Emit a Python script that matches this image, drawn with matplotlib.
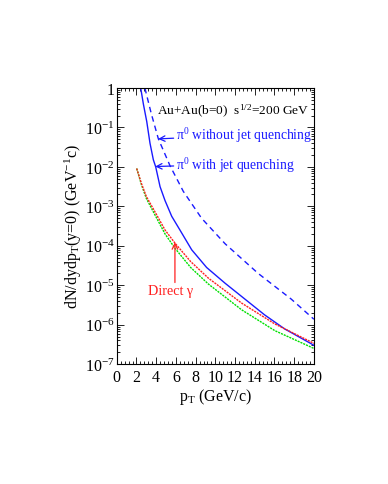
import numpy as np
import matplotlib
matplotlib.use('Agg')
import matplotlib.pyplot as plt
from matplotlib.ticker import LogLocator, MultipleLocator

plt.rcParams['font.family'] = ['Liberation Serif', 'DejaVu Serif']
plt.rcParams['mathtext.fontset'] = 'custom'
plt.rcParams['mathtext.rm'] = 'Liberation Serif'
plt.rcParams['mathtext.it'] = 'Liberation Serif:italic'

# pi0 with jet quenching (blue solid), log10 of yield
pt_quench = [2.36, 2.70, 3.04, 3.37, 3.71, 3.95, 4.39, 4.89, 5.57, 6.41, 7.6, 9.12,
             11.0, 13.0, 15.0, 17.0, 20.0]
ly_quench = [0.10, -0.41, -0.85, -1.40, -1.82, -2.0, -2.5, -2.85, -3.25, -3.6, -4.1,
             -4.55, -4.95, -5.35, -5.75, -6.1, -6.52]

# pi0 without jet quenching (blue dashed)
pt_noquench = [2.85, 3.5, 4.22, 5.4, 6.75, 8.6, 11.0, 14.35, 17.7, 20.0]
ly_noquench = [0.0, -0.65, -1.29, -1.97, -2.62, -3.3, -3.95, -4.7, -5.35, -5.86]

# direct photons (red)
pt_gamma = [2.02, 2.5, 3.0, 3.9, 4.9, 5.9, 7.5, 9.3, 12.66, 16.04, 20.0]
ly_gamma = [-2.04, -2.42, -2.75, -3.15, -3.6, -3.93, -4.4, -4.82, -5.45, -5.98, -6.47]

# green curve
pt_green = [2.02, 2.5, 3.0, 3.9, 4.9, 5.9, 7.5, 9.3, 12.66, 16.04, 20.0]
ly_green = [-2.04, -2.45, -2.8, -3.23, -3.7, -4.06, -4.55, -4.97, -5.62, -6.15, -6.6]

yticks = [1e-7, 1e-6, 1e-5, 1e-4, 1e-3, 1e-2, 1e-1, 1]
ytick_labels = ['$10^{-7}$', '$10^{-6}$', '$10^{-5}$', '$10^{-4}$',
                '$10^{-3}$', '$10^{-2}$', '$10^{-1}$', '1']

fig = plt.figure(figsize=(3.88, 4.85), dpi=100)
ax = fig.add_axes([0.301, 0.247, 0.508, 0.5695])

blue = '#1a1aff'
red = '#ff2020'
ax.plot(pt_quench, 10**np.array(ly_quench), color=blue, lw=1.0)
ax.plot(pt_noquench, 10**np.array(ly_noquench), color=blue, lw=1.0,
        linestyle=(0, (4, 3)))
ax.plot(pt_green, 10**np.array(ly_green), color='#00e000', lw=1.0,
        linestyle=(0, (1.5, 0.7)))
ax.plot(pt_gamma, 10**np.array(ly_gamma), color=red, lw=1.0,
        linestyle=(0, (1.5, 0.7)))

ax.set_yscale('log')
ax.set_xlim(0, 20)
ax.set_ylim(1e-7, 1)
ax.set_yticks(yticks)
ax.set_yticklabels(ytick_labels)
ax.yaxis.set_minor_locator(LogLocator(base=10, subs=np.arange(2, 10)))
ax.xaxis.set_major_locator(MultipleLocator(2))
ax.xaxis.set_minor_locator(MultipleLocator(0.4))
ax.tick_params(which='both', direction='in', top=True, right=True,
               labelsize=11.5, width=0.6)
ax.tick_params(axis='y', pad=1.5)
ax.tick_params(axis='x', pad=3.5)
ax.tick_params(which='major', length=5)
ax.tick_params(which='minor', length=2.5)
for s in ax.spines.values():
    s.set_linewidth(0.8)

ax.set_xlabel('p$_{\\rm T}$ (GeV/c)', fontsize=11.5, labelpad=0.5)
ax.set_ylabel('dN/dydp$_{\\rm T}$(y=0) (GeV$^{-1}$c)', fontsize=11.5, labelpad=0.5)

ax.text(4.05, 10**-0.58, 'Au+Au(b=0)  s$^{1/2}$=200 GeV', fontsize=9.6,
        va='center', ha='left')

ax.annotate('π$^0$ without jet quenching', xy=(4.2, 10**-1.29),
            xytext=(6.05, 10**-1.19), fontsize=9.8, color=blue,
            va='center', ha='left',
            arrowprops=dict(arrowstyle='->', color=blue, lw=0.9,
                            shrinkA=0, shrinkB=0))
ax.annotate('π$^0$ with jet quenching', xy=(3.9, 10**-1.99),
            xytext=(6.05, 10**-1.93), fontsize=9.8, color=blue,
            va='center', ha='left',
            arrowprops=dict(arrowstyle='->', color=blue, lw=0.9,
                            shrinkA=0, shrinkB=0))
ax.annotate('', xy=(5.9, 10**-3.91), xytext=(5.9, 10**-4.93),
            arrowprops=dict(arrowstyle='->', color=red, lw=0.9,
                            shrinkA=0, shrinkB=0))
ax.text(5.5, 10**-5.14, 'Direct γ', fontsize=10.2, color=red,
        va='center', ha='center')

fig.savefig('out.png', dpi=100)
